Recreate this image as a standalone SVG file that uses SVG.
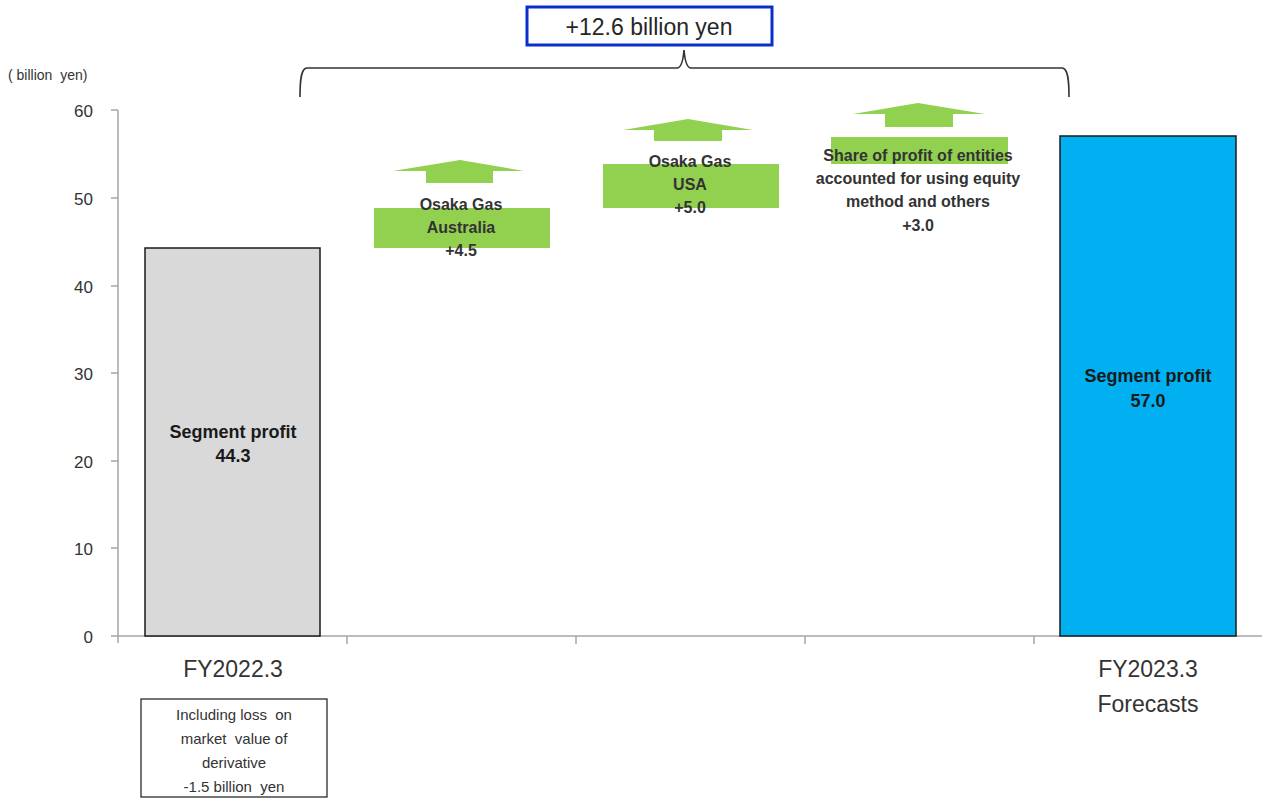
<svg xmlns="http://www.w3.org/2000/svg" width="1262" height="798" viewBox="0 0 1262 798">
<style>
text{font-family:"Liberation Sans",Arial,sans-serif;fill:#262626;white-space:pre}
.ax{font-size:17px;text-anchor:end;fill:#333}
.cat{font-size:23px;text-anchor:middle;fill:#333}
.lbl{font-size:18px;font-weight:bold;text-anchor:middle;fill:#1a1a1a}
.gl{font-size:16px;font-weight:bold;text-anchor:middle;fill:#333}
.note{font-size:15px;text-anchor:middle;fill:#333}
.axis{stroke:#a6a6a6;stroke-width:1.5;fill:none}
.arrow{fill:#92d050}
.delta{fill:#92d050}
</style>
<rect width="1262" height="798" fill="#fff"/>
<g id="axes">
<path class="axis" d="M118 110V636M111 110H118M111 198H118M111 286H118M111 373H118M111 461H118M111 548H118M111 636H1262M118 636v7M347 636v8M576 636v8M805 636v8M1034 636v8"/>
<text class="ax" x="93" y="117">60</text>
<text class="ax" x="93" y="205">50</text>
<text class="ax" x="93" y="293">40</text>
<text class="ax" x="93" y="380">30</text>
<text class="ax" x="93" y="468">20</text>
<text class="ax" x="93" y="555">10</text>
<text class="ax" x="93" y="643">0</text>
<text x="8" y="80" style="font-size:14px;fill:#333">( billion  yen)</text>
</g>
<g id="bar-fy2022">
<rect x="145" y="248" width="175" height="388" fill="#d9d9d9" stroke="#1a1a1a" stroke-width="1.5"/>
<text class="lbl" x="233" y="438">Segment profit</text>
<text class="lbl" x="233" y="462">44.3</text>
<text class="cat" x="233" y="677">FY2022.3</text>
</g>
<g id="note">
<rect x="141" y="699" width="186" height="98" fill="#fff" stroke="#1a1a1a" stroke-width="1.2"/>
<text class="note" x="234" y="720">Including loss  on</text>
<text class="note" x="234" y="744">market  value of</text>
<text class="note" x="234" y="768">derivative</text>
<text class="note" x="234" y="792">-1.5 billion  yen</text>
</g>
<g id="step-australia">
<rect class="delta" x="374" y="208" width="176" height="40"/>
<polygon class="arrow" points="460,160 524,171 493,171 493,183 426,183 426,171 393,171"/>
<text class="gl" x="461" y="210">Osaka Gas</text>
<text class="gl" x="461" y="233">Australia</text>
<text class="gl" x="461" y="256">+4.5</text>
</g>
<g id="step-usa">
<rect class="delta" x="603" y="164" width="176" height="44"/>
<polygon class="arrow" points="688,119 753,130 722,130 722,141 654,141 654,130 623,130"/>
<text class="gl" x="690" y="167">Osaka Gas</text>
<text class="gl" x="690" y="190">USA</text>
<text class="gl" x="690" y="213">+5.0</text>
</g>
<g id="step-others">
<rect class="delta" x="831" y="137" width="177" height="27"/>
<polygon class="arrow" points="918,103 985,114 953,114 953,127 885,127 885,114 853,114"/>
<text class="gl" x="918" y="161">Share of profit of entities</text>
<text class="gl" x="918" y="184">accounted for using equity</text>
<text class="gl" x="918" y="207">method and others</text>
<text class="gl" x="918" y="231">+3.0</text>
</g>
<g id="bar-fy2023">
<rect x="1060" y="136" width="176" height="500" fill="#00b0f0" stroke="#1a1a1a" stroke-width="1.5"/>
<text class="lbl" x="1148" y="382">Segment profit</text>
<text class="lbl" x="1148" y="407">57.0</text>
<text class="cat" x="1148" y="677">FY2023.3</text>
<text class="cat" x="1148" y="712">Forecasts</text>
</g>
<g id="connectors">
<path d="M300 97C300 80 301 68 307 68H677C681 68 683 62 684 50C685 62 687 68 691 68H1062C1068 68 1069 80 1069 97" fill="none" stroke="#333" stroke-width="1.6"/>
</g>
<g id="total">
<rect x="527" y="7" width="245" height="38" fill="#fff" stroke="#0a2fcc" stroke-width="3"/>
<text x="649" y="35" style="font-size:23px;text-anchor:middle;fill:#262626">+12.6 billion yen</text>
</g>
</svg>
